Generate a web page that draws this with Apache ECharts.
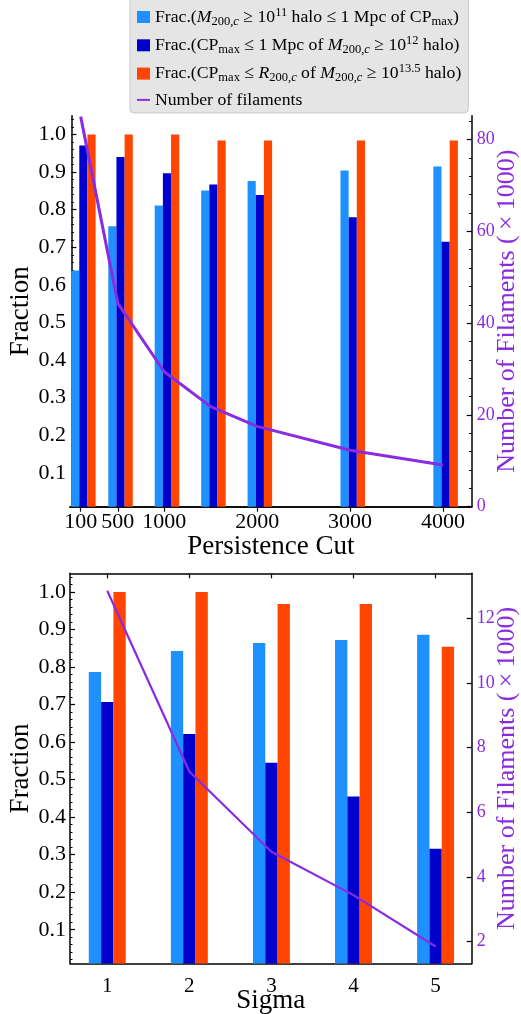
<!DOCTYPE html>
<html><head><meta charset="utf-8">
<script src="https://cdn.jsdelivr.net/npm/echarts@6/dist/echarts.min.js"></script>
<style>html,body{margin:0;padding:0;background:#fff}#c{width:521px;height:1014px}</style>
</head><body><div id="c"></div>
<script>
// ---------- data: persistence cut panel ----------
const persistCuts = [100, 500, 1000, 1500, 2000, 3000, 4000];
const persistFracHalo11 = [0.638, 0.756, 0.811, 0.851, 0.876, 0.904, 0.915];
const persistFracCP12 = [0.971, 0.940, 0.897, 0.867, 0.839, 0.780, 0.715];
const persistFracR200 = [1.000, 1.000, 1.000, 0.984, 0.984, 0.984, 0.984];
const persistNumFil = [85.0, 44.3, 29.4, 21.8, 17.5, 12.3, 9.1];
const persistTickLabels = [100, 500, 1000, 2000, 3000, 4000];
const filTicksTop = [0, 20, 40, 60, 80];

// ---------- data: sigma panel ----------
const sigmas = [1, 2, 3, 4, 5];
const sigmaFracHalo11 = [0.787, 0.843, 0.864, 0.872, 0.886];
const sigmaFracCP12 = [0.707, 0.622, 0.545, 0.455, 0.316];
const sigmaFracR200 = [1.000, 1.000, 0.968, 0.968, 0.854];
const sigmaNumFil = [12.85, 7.26, 4.78, 3.44, 1.85];
const sigmaTickLabels = [1, 2, 3, 4, 5];
const filTicksBottom = [2, 4, 6, 8, 10, 12];

const fractionTicks = [0.1, 0.2, 0.3, 0.4, 0.5, 0.6, 0.7, 0.8, 0.9, 1.0];

// ---------- styling ----------
const C1 = '#1E90FF', C2 = '#0000CD', C3 = '#FF4500', CL = '#8A2BE2';
const FF = 'Liberation Serif';
const zip = (xs, ys) => xs.map((x, i) => [x, ys[i]]);

const fracMinor = [];
for (let i = 1; i <= 52; i++) { if (i % 5 !== 0) fracMinor.push(+(i * 0.02).toFixed(2)); }
const filMinorTop = [];
for (let v = 4; v <= 84; v += 4) { if (v % 20 !== 0) filMinorTop.push(v); }

function barRender(lo, hi) {
  return function (params, api) {
    const x = api.value(0), v = api.value(1);
    const p1 = api.coord([x + lo, v]);
    const p2 = api.coord([x + hi, 0]);
    const cs = params.coordSys;
    const shape = echarts.graphic.clipRectByRect(
      { x: p1[0], y: p1[1], width: p2[0] - p1[0], height: p2[1] - p1[1] },
      { x: cs.x, y: cs.y, width: cs.width, height: cs.height });
    return shape && { type: 'rect', shape: shape, style: { fill: api.visual('color') } };
  };
}

const blackLine = { show: true, lineStyle: { color: '#000', width: 1.5 } };
const tickMajor = (vals) => ({ show: true, inside: true, length: 5, customValues: vals, lineStyle: { color: '#000', width: 1.2 } });
const tickMinor = (vals) => ({ show: true, inside: true, length: 2.5, customValues: vals, lineStyle: { color: '#000', width: 1 } });

function yAxesFor(grid, rMin, rMax, rTicks, rMinor) {
  const axes = [
    { gridIndex: grid, type: 'value', position: 'left', min: 0.01, max: 1.05,
      axisLine: blackLine, axisTick: tickMajor(fractionTicks), splitLine: { show: false },
      axisLabel: { customValues: fractionTicks, formatter: v => v.toFixed(1), color: '#000', fontFamily: FF, fontSize: 22, margin: 4 },
      name: 'Fraction', nameLocation: 'middle', nameGap: 35.5, nameMoveOverlap: false,
      nameTextStyle: { fontFamily: FF, fontSize: 27, color: '#000' } },
    { gridIndex: grid, type: 'value', position: 'left', min: 0.01, max: 1.05,
      axisLine: { show: false }, axisTick: tickMinor(fracMinor), axisLabel: { show: false }, splitLine: { show: false } },
    { gridIndex: grid, type: 'value', position: 'right', min: rMin, max: rMax,
      axisLine: blackLine, axisTick: tickMajor(rTicks), splitLine: { show: false },
      axisLabel: { customValues: rTicks, color: CL, fontFamily: FF, fontSize: 18, margin: 5 },
      name: 'Number of Filaments (\u2009×\u20091000)', nameLocation: 'middle', nameGap: 22, nameMoveOverlap: false,
      nameTextStyle: { fontFamily: FF, fontSize: 26, color: CL } }
  ];
  if (rMinor) axes.push({ gridIndex: grid, type: 'value', position: 'right', min: rMin, max: rMax,
      axisLine: { show: false }, axisTick: tickMinor(rMinor), axisLabel: { show: false }, splitLine: { show: false } });
  return axes;
}

const yAxes = yAxesFor(0, 0, 85.2, filTicksTop, filMinorTop).concat(yAxesFor(1, 1.326, 13.39, filTicksBottom, null));
// indices: top grid 0..3 (left, leftMinor, right, rightMinor); bottom grid 4..6

const xAxes = [
  { gridIndex: 0, type: 'value', position: 'bottom', min: -15, max: 4310,
    axisLine: blackLine, axisTick: tickMajor(persistTickLabels), splitLine: { show: false },
    axisLabel: { customValues: persistTickLabels, formatter: v => String(v), color: '#000', fontFamily: FF, fontSize: 22, margin: 5 },
    name: 'Persistence Cut', nameLocation: 'middle', nameGap: 27, nameMoveOverlap: false,
    nameTextStyle: { fontFamily: FF, fontSize: 27, color: '#000' } },
  { gridIndex: 0, type: 'value', position: 'top', min: -15, max: 4310,
    axisLine: blackLine, axisTick: tickMajor(persistTickLabels), axisLabel: { show: false }, splitLine: { show: false } },
  { gridIndex: 1, type: 'value', position: 'bottom', min: 0.546, max: 5.44,
    axisLine: blackLine, axisTick: tickMajor(sigmaTickLabels), splitLine: { show: false },
    axisLabel: { customValues: sigmaTickLabels, formatter: v => String(v), color: '#000', fontFamily: FF, fontSize: 21, margin: 12 },
    name: 'Sigma', nameLocation: 'middle', nameGap: 24, nameMoveOverlap: false,
    nameTextStyle: { fontFamily: FF, fontSize: 27, color: '#000' } },
  { gridIndex: 1, type: 'value', position: 'top', min: 0.546, max: 5.44,
    axisLine: blackLine, axisTick: tickMajor(sigmaTickLabels), axisLabel: { show: false }, splitLine: { show: false } }
];

const barDefs = [
  { name: 'a', color: C1 }, { name: 'b', color: C2 }, { name: 'c', color: C3 }
];
const pOff = [[-103, -15], [-15, 73], [73, 161]];
const sOff = [[-0.225, -0.075], [-0.075, 0.075], [0.075, 0.225]];
const pData = [persistFracHalo11, persistFracCP12, persistFracR200];
const sData = [sigmaFracHalo11, sigmaFracCP12, sigmaFracR200];

const series = [];
barDefs.forEach((d, i) => {
  series.push({ type: 'custom', name: d.name, xAxisIndex: 0, yAxisIndex: 0, itemStyle: { color: d.color },
    renderItem: barRender(pOff[i][0], pOff[i][1]), encode: { x: 0, y: 1 }, data: zip(persistCuts, pData[i]) });
  series.push({ type: 'custom', name: d.name, xAxisIndex: 2, yAxisIndex: 4, itemStyle: { color: d.color },
    renderItem: barRender(sOff[i][0], sOff[i][1]), encode: { x: 0, y: 1 }, data: zip(sigmas, sData[i]) });
});
series.push({ type: 'line', name: 'd', xAxisIndex: 0, yAxisIndex: 2, data: zip(persistCuts, persistNumFil),
  symbol: 'none', clip: true, itemStyle: { color: CL }, lineStyle: { color: CL, width: 3 }, z: 5 });
series.push({ type: 'line', name: 'd', xAxisIndex: 2, yAxisIndex: 6, data: zip(sigmas, sigmaNumFil),
  symbol: 'none', clip: true, itemStyle: { color: CL }, lineStyle: { color: CL, width: 2.2 }, z: 5 });

const legendText = {
  a: '{t|Frac.(}{it|M}{sub|200,}{subi|c}{t| ≥ 10}{sup|11}{t| halo ≤ 1 Mpc of CP}{sub|max}{t|)}',
  b: '{t|Frac.(CP}{sub|max}{t| ≤ 1 Mpc of }{it|M}{sub|200,}{subi|c}{t| ≥ 10}{sup|12}{t| halo)}',
  c: '{t|Frac.(CP}{sub|max}{t| ≤ }{it|R}{sub|200,}{subi|c}{t| of }{it|M}{sub|200,}{subi|c}{t| ≥ 10}{sup|13.5}{t| halo)}',
  d: '{t|Number of filaments}'
};
const LF = 17.7, LS = 12.5;

const option = {
  animation: false,
  backgroundColor: '#fff',
  grid: [
    { left: 70, top: 115.7, width: 401.7, height: 391, outerBoundsMode: 'none', containLabel: false },
    { left: 70, top: 573.3, width: 401.7, height: 390.2, outerBoundsMode: 'none', containLabel: false }
  ],
  xAxis: xAxes,
  yAxis: yAxes,
  legend: {
    orient: 'vertical', left: 130, top: -4, align: 'left',
    backgroundColor: '#e5e5e5', borderColor: '#c8c8c8', borderWidth: 1, borderRadius: 4,
    padding: [10, 7, 4, 7], itemGap: 6.3, itemWidth: 13, itemHeight: 12,
    selectedMode: false,
    data: [{ name: 'a', icon: 'rect' }, { name: 'b', icon: 'rect' }, { name: 'c', icon: 'rect' },
           { name: 'd', icon: 'path://M0,0L16,0L16,2.4L0,2.4Z' }],
    formatter: n => legendText[n],
    textStyle: {
      fontFamily: FF, fontSize: LF, color: '#000',
      rich: {
        t: { fontFamily: FF, fontSize: LF, lineHeight: 22, color: '#000' },
        it: { fontFamily: FF, fontSize: LF, lineHeight: 22, fontStyle: 'italic', color: '#000' },
        sub: { fontFamily: FF, fontSize: LS, lineHeight: 12, verticalAlign: 'bottom', color: '#000' },
        subi: { fontFamily: FF, fontSize: LS, lineHeight: 12, verticalAlign: 'bottom', fontStyle: 'italic', color: '#000' },
        sup: { fontFamily: FF, fontSize: LS, lineHeight: 12, verticalAlign: 'top', color: '#000' }
      }
    }
  },
  series: series
};

const chart = echarts.init(document.getElementById('c'), null, { renderer: 'canvas' });
chart.setOption(option);
</script>
</body></html>
